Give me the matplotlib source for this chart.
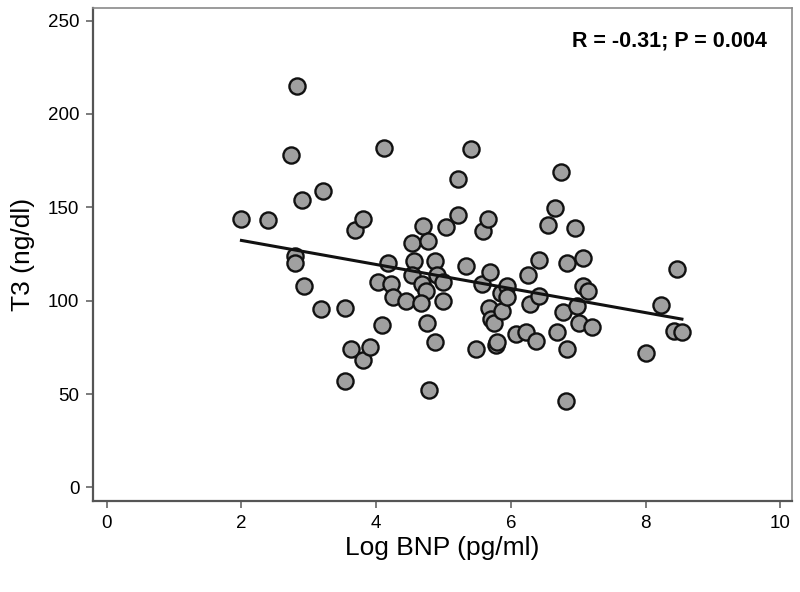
import numpy as np
import matplotlib
matplotlib.use("Agg")
import matplotlib.pyplot as plt

# Log BNP (pg/ml) and T3 (ng/dl)
log_bnp = [2.00, 2.40, 2.82, 2.73, 2.90, 3.21, 2.79, 2.79, 2.93, 3.18,
           3.54, 3.54, 3.62, 3.80, 3.91, 3.68, 3.81, 4.12, 4.03, 4.09,
           4.17, 4.22, 4.25, 4.45, 4.53, 4.56, 4.53, 4.69, 4.77, 4.68,
           4.74, 4.67, 4.75, 4.79, 4.87, 4.91, 4.88, 4.99, 5.00, 5.04,
           5.22, 5.22, 5.33, 5.41, 5.48, 5.58, 5.57, 5.66, 5.69, 5.68,
           5.70, 5.75, 5.78, 5.80, 5.87, 5.85, 5.94, 5.94, 6.07, 6.22,
           6.26, 6.28, 6.38, 6.42, 6.42, 6.55, 6.65, 6.69, 6.74, 6.78,
           6.82, 6.84, 6.84, 6.95, 6.98, 7.01, 7.07, 7.07, 7.15, 7.20,
           8.00, 8.23, 8.42, 8.47, 8.54]
t3 = [144, 143, 215, 178, 154, 159, 124, 120, 108, 95.5,
      96, 57, 74, 68, 75, 138, 144, 182, 110, 87,
      120, 109, 102, 100, 131, 121, 114, 140, 132, 109,
      105, 99, 88, 52, 121, 114, 78, 110, 100, 139.5,
      165, 146, 118.5, 181, 74, 137.5, 109, 143.5, 115.5, 96,
      90, 88, 76.5, 78, 94.5, 104, 108, 102, 82, 83,
      114, 98, 78.5, 102.5, 122, 140.5, 149.5, 83, 169, 94,
      46, 74, 120, 139, 97, 88, 123, 108, 105, 86,
      72, 97.5, 84, 117, 83]

x = np.array(log_bnp)
y = np.array(t3)
slope, intercept = np.polyfit(x, y, 1)
xfit = np.array([x.min(), x.max()])

fig = plt.figure(figsize=(8, 5.92), dpi=100)
ax = fig.add_axes([0.1166, 0.1537, 0.873, 0.8336])

ax.scatter(x, y, s=135, c="#a0a0a0", edgecolors="#111111", linewidths=1.7, zorder=3)
ax.plot(xfit, intercept + slope * xfit, color="#111111", lw=2.2, zorder=4)

ax.set_xlim(-0.2, 10.17)
ax.set_ylim(-7.3, 257)
ax.set_xticks([0, 2, 4, 6, 8, 10])
ax.set_yticks([0, 50, 100, 150, 200, 250])

font = "Liberation Sans"
for lab in ax.get_xticklabels() + ax.get_yticklabels():
    lab.set_fontfamily(font)
    lab.set_fontsize(13.5)
ax.tick_params(direction="out", length=5, width=1.2, color="#666666", pad=5)

for side in ["left", "bottom"]:
    ax.spines[side].set_color("#555555")
    ax.spines[side].set_linewidth(1.6)
for side in ["top", "right"]:
    ax.spines[side].set_color("#8a8a8a")
    ax.spines[side].set_linewidth(1.2)

ax.set_xlabel("Log BNP (pg/ml)", fontsize=19, family=font, labelpad=3)
ax.set_ylabel("T3 (ng/dl)", fontsize=19, family=font, labelpad=9)

ax.text(0.9645, 0.932, "R = -0.31; P = 0.004", transform=ax.transAxes,
        ha="right", va="center", fontsize=15.5, fontweight="bold", family=font)

fig.savefig("out.png", dpi=100)
